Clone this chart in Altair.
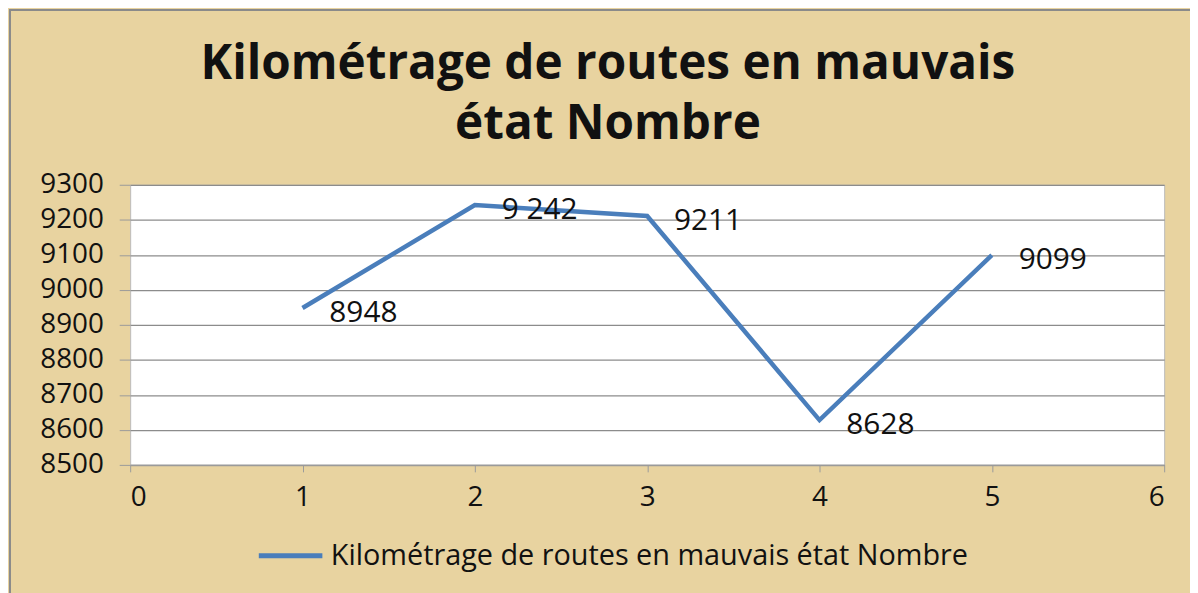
import altair as alt
import pandas as pd

x_values = [1, 2, 3, 4, 5]
y_values = [8948, 9242, 9211, 8628, 9099]
point_labels = ["8948", "9 242", "9211", "8628", "9099"]
series_name = "Kilométrage de routes en mauvais état Nombre"
title_lines = ["Kilométrage de routes en mauvais", "état Nombre"]
x_ticks = [0, 1, 2, 3, 4, 5, 6]
y_ticks = [8500, 8600, 8700, 8800, 8900, 9000, 9100, 9200, 9300]

df = pd.DataFrame({"x": x_values, "y": y_values, "label": point_labels,
                   "series": [series_name] * len(x_values)})

FONT = "Open Sans"
BG = "#E8D3A0"
LINE = "#4A7EBB"

base = alt.Chart(df)

line = base.mark_line(strokeWidth=4.5, color=LINE).encode(
    x=alt.X("x:Q", scale=alt.Scale(domain=[0, 6], nice=False),
            axis=alt.Axis(values=x_ticks, tickCount=7, format="d", title=None,
                          grid=False, labelOverlap=False,
                          domainColor="#9a9a9a", domainWidth=1.5,
                          tickColor="#9a9a9a", tickSize=7, labelPadding=12,
                          labelFontSize=28, labelFont=FONT, labelColor="#111")),
    y=alt.Y("y:Q", scale=alt.Scale(domain=[8500, 9300], nice=False, zero=False),
            axis=alt.Axis(values=y_ticks, tickCount=9, format="d",
                          title=None, labelOverlap=False,
                          grid=True, gridColor="#8c8c8c", gridWidth=1.2,
                          domain=False, tickColor="#9a9a9a", tickSize=11,
                          labelPadding=16, labelFontSize=28, labelFont=FONT,
                          labelColor="#111")),
    color=alt.Color("series:N", scale=alt.Scale(range=[LINE]),
                    legend=alt.Legend(title=None, orient="none", legendX=127,
                                      legendY=339, symbolType="stroke",
                                      symbolSize=4096, symbolStrokeWidth=5,
                                      labelFontSize=29, labelFont=FONT,
                                      labelColor="#111", labelLimit=1000,
                                      labelOffset=6)),
)

labels = base.mark_text(align="left", baseline="middle", dx=27, dy=5,
                        fontSize=30, font=FONT, color="#111").encode(
    x="x:Q", y="y:Q", text="label:N")

tdf = pd.DataFrame({"t": title_lines})
title1 = alt.Chart(tdf.iloc[[0]]).mark_text(
    align="center", baseline="alphabetic", fontSize=48, font=FONT,
    fontWeight="bold", color="#111").encode(
    x=alt.value(481), y=alt.value(-106), text="t:N")
title2 = alt.Chart(tdf.iloc[[1]]).mark_text(
    align="center", baseline="alphabetic", fontSize=48, font=FONT,
    fontWeight="bold", color="#111").encode(
    x=alt.value(481), y=alt.value(-46), text="t:N")

frame = alt.Chart(pd.DataFrame({"a": [0]})).mark_rect(
    fill=None, stroke="#8a8a8a", strokeWidth=2).encode(
    x=alt.value(-121), x2=alt.value(1300), y=alt.value(-176), y2=alt.value(600))

chart = alt.layer(frame, line, labels, title1, title2).properties(
    width=1041, height=282,
    autosize=alt.AutoSizeParams(type="none"),
    padding={"left": 123, "top": 176, "right": 26, "bottom": 127},
    background=BG,
).configure_view(fill="white", stroke="#bbbbbb", strokeWidth=1)

chart.save("out.html", embed_options={"renderer": "svg", "actions": False})
